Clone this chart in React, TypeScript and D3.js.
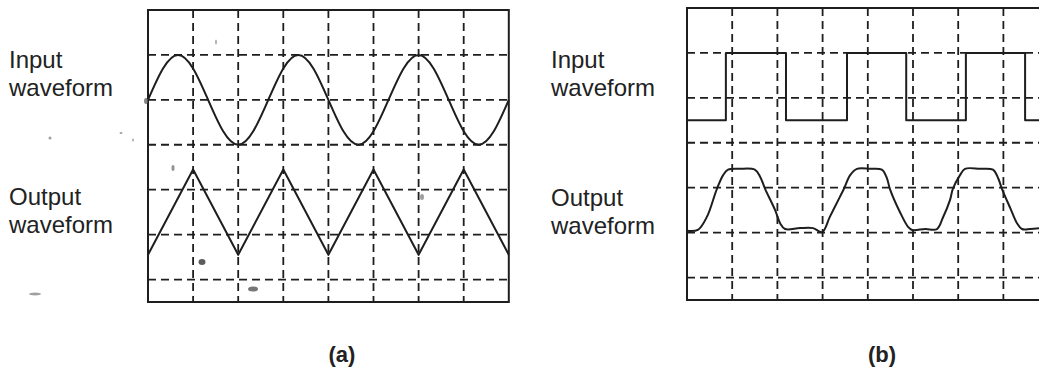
import React from "react";
import * as d3 from "d3";

// Oscilloscope traces, in screen divisions (x: time divisions, y: divisions above the bottom edge)
const sineX = [0, 0.333, 0.667, 1, 1.333, 1.667, 2, 2.333, 2.667, 3, 3.333, 3.667, 4, 4.333, 4.667, 5, 5.333, 5.667, 6, 6.333, 6.667, 7, 7.333, 7.667, 8];
const sineY = [4.5, 5.2, 5.5, 5.2, 4.5, 3.8, 3.5, 3.8, 4.5, 5.2, 5.5, 5.2, 4.5, 3.8, 3.5, 3.8, 4.5, 5.2, 5.5, 5.2, 4.5, 3.8, 3.5, 3.8, 4.5];

const triX = [0, 1, 2, 3, 4, 5, 6, 7, 8];
const triY = [1.05, 2.95, 1.05, 2.95, 1.05, 2.95, 1.05, 2.95, 1.05];

const squareX = [0, 0.86, 2.19, 3.54, 4.85, 6.17, 7.48, 8];
const squareY = [4.0, 5.5, 4.0, 5.5, 4.0, 5.5, 4.0, 4.0];

const outX = [0, 0.24, 0.44, 0.66, 0.8, 0.91, 1.17, 1.5, 1.62, 1.73, 1.95, 2.06, 2.17, 2.5, 2.79, 2.99, 3.16, 3.38, 3.47, 3.61, 3.76, 4.05, 4.31, 4.42, 4.49, 4.71, 4.89, 4.98, 5.27, 5.53, 5.66, 5.82, 5.88, 6.04, 6.15, 6.48, 6.77, 6.88, 6.97, 7.15, 7.3, 7.41, 7.59, 7.79];
const outY = [1.54, 1.56, 1.85, 2.47, 2.78, 2.9, 2.92, 2.9, 2.74, 2.47, 2.0, 1.71, 1.58, 1.6, 1.6, 1.51, 1.85, 2.29, 2.47, 2.78, 2.92, 2.92, 2.9, 2.72, 2.47, 1.96, 1.63, 1.56, 1.58, 1.58, 1.83, 2.23, 2.47, 2.78, 2.92, 2.92, 2.9, 2.72, 2.47, 2.05, 1.71, 1.58, 1.58, 1.6];

const gridXs = [1, 2, 3, 4, 5, 6, 7];
const gridYs = [0.5, 1.5, 2.5, 3.5, 4.5, 5.5];

const inputLabel = ["Input", "waveform"];
const outputLabel = ["Output", "waveform"];
const captions = ["(a)", "(b)"];

// specks of dust on the printed page: [x, y, rx, ry, shade]
const dust: [number, number, number, number, string][] = [
  [202, 262, 3.5, 3, "#333"],
  [253, 289, 5, 2.5, "#555"],
  [173, 168, 1.5, 3, "#777"],
  [422, 197, 2, 3, "#888"],
  [216, 42, 1, 2.5, "#999"],
  [50, 138, 1.5, 1.5, "#888"],
  [121, 133, 1.5, 1, "#888"],
  [133, 140, 1, 1.5, "#999"],
  [35, 294, 6, 1.5, "#888"],
  [146, 101, 2, 3, "#666"],
];

const INK = "#1e1e1e";
const FONT = "'Liberation Sans', Arial, Helvetica, sans-serif";

type Trace = { xs: number[]; ys: number[]; curve: d3.CurveFactory };

function Scope({ left, top, bottom, div, traces, border }: {
  left: number; top: number; bottom: number; div: number; traces: Trace[]; border: "full" | "open";
}) {
  const x = d3.scaleLinear().domain([0, 8]).range([left, left + 8 * div]);
  const y = d3.scaleLinear().domain([0, 6.5]).range([bottom, top]);
  const x0 = x(0), x1 = x(8), y0 = y(6.5), y1 = y(0);
  const dash = "8,5";
  return (
    <g>
      {gridXs.map((g) => (
        <line key={"v" + g} x1={x(g)} x2={x(g)} y1={y0} y2={y1} stroke={INK} strokeWidth={1.8} strokeDasharray={dash} />
      ))}
      {gridYs.map((g) => (
        <line key={"h" + g} x1={x0} x2={x1} y1={y(g)} y2={y(g)} stroke={INK} strokeWidth={1.8} strokeDasharray={dash} />
      ))}
      {border === "full" ? (
        <rect x={x0} y={y0} width={x1 - x0} height={y1 - y0} fill="none" stroke={INK} strokeWidth={2} />
      ) : (
        <path d={`M${x1},${y0}H${x0}V${y1}H${x1}`} fill="none" stroke={INK} strokeWidth={2} />
      )}
      {traces.map((t, i) => {
        const pts = t.xs.map((v, k) => [v, t.ys[k]] as [number, number]);
        const line = d3.line<[number, number]>().x((d) => x(d[0])).y((d) => y(d[1])).curve(t.curve);
        return <path key={i} d={line(pts) || ""} fill="none" stroke={INK} strokeWidth={2} strokeLinejoin="round" />;
      })}
    </g>
  );
}

function Label({ x, y, lines }: { x: number; y: number; lines: string[] }) {
  return (
    <text x={x} y={y} fontFamily={FONT} fontSize={24} fill="#222">
      {lines.map((l, i) => (
        <tspan key={i} x={x} dy={i === 0 ? 0 : 28}>{l}</tspan>
      ))}
    </text>
  );
}

export default function App() {
  return (
    <svg width={1039} height={367} style={{ position: "absolute", left: 0, top: 0, background: "#fff" }}>
      <rect width={1039} height={367} fill="#fff" />
      <Label x={9} y={68} lines={inputLabel} />
      <Label x={9} y={205} lines={outputLabel} />
      <Label x={551} y={68} lines={inputLabel} />
      <Label x={551} y={206} lines={outputLabel} />

      <Scope left={148} top={10} bottom={302} div={45.1} border="full"
        traces={[
          { xs: sineX, ys: sineY, curve: d3.curveNatural },
          { xs: triX, ys: triY, curve: d3.curveLinear },
        ]} />
      <Scope left={687} top={8} bottom={300} div={45.2} border="open"
        traces={[
          { xs: squareX, ys: squareY, curve: d3.curveStepAfter },
          { xs: outX, ys: outY, curve: d3.curveCatmullRom.alpha(0.5) },
        ]} />

      {dust.map(([cx, cy, rx, ry, c], i) => (
        <ellipse key={i} cx={cx} cy={cy} rx={rx} ry={ry} fill={c} opacity={0.8} />
      ))}

      <text x={342} y={362} textAnchor="middle" fontFamily={FONT} fontWeight="bold" fontSize={22} fill="#222">{captions[0]}</text>
      <text x={882} y={362} textAnchor="middle" fontFamily={FONT} fontWeight="bold" fontSize={22} fill="#222">{captions[1]}</text>
    </svg>
  );
}
